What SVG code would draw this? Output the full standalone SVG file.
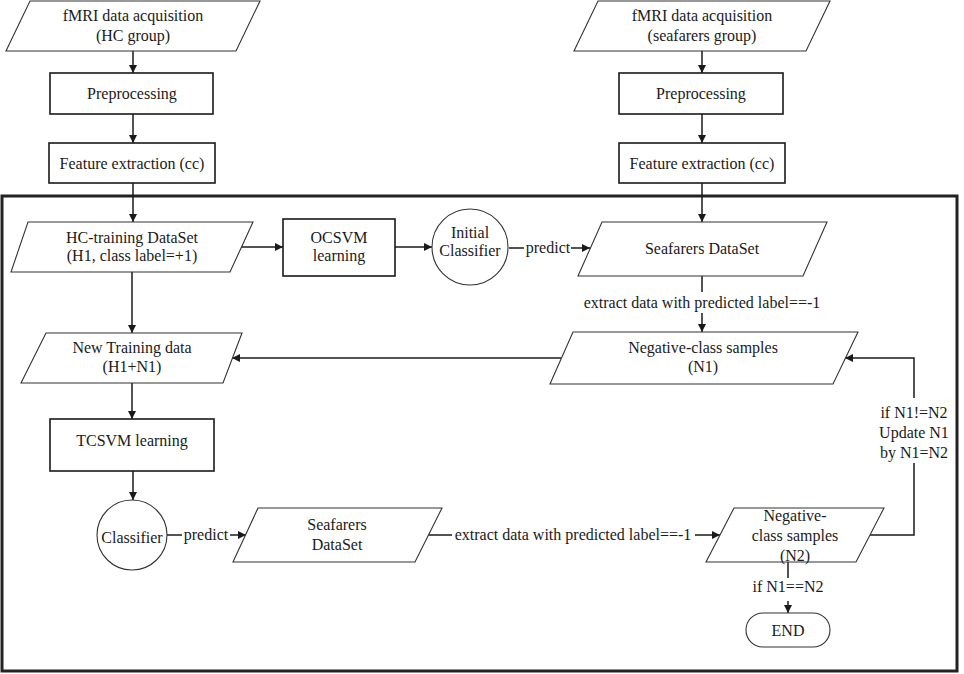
<svg xmlns="http://www.w3.org/2000/svg" width="964" height="674" viewBox="0 0 964 674">
<style>
text{font-family:"Liberation Serif","Times New Roman",serif;font-size:16px;fill:#1a1a1a;text-anchor:middle}
.box{fill:#fff;stroke:#1a1a1a;stroke-width:1.6}
.para{fill:#fff;stroke:#333;stroke-width:1.1}
.ln{fill:none;stroke:#1a1a1a;stroke-width:1.5}
.arr{fill:none;stroke:#1a1a1a;stroke-width:1.5;marker-end:url(#ah)}
</style>
<defs>
<marker id="ah" viewBox="0 0 10 10" refX="10" refY="5" markerWidth="9" markerHeight="8" orient="auto" markerUnits="userSpaceOnUse"><path d="M0,0 L10,5 L0,10 z" fill="#1a1a1a"/></marker>
</defs>
<rect x="2" y="196" width="955" height="475" fill="none" stroke="#222" stroke-width="3"/>
<g id="connectors">
<path class="arr" d="M133,51 V73"/>
<path class="arr" d="M133,114 V143"/>
<path class="arr" d="M133,183 V222"/>
<path class="arr" d="M702,51 V73"/>
<path class="arr" d="M702,114 V143"/>
<path class="arr" d="M702,183 V222"/>
<path class="arr" d="M241,247 H283"/>
<path class="arr" d="M395,247 H432"/>
<path class="ln" d="M509,248 H524"/>
<path class="arr" d="M571,248 H590"/>
<text x="548" y="253">predict</text>
<path class="ln" d="M702,276 V292"/>
<text x="702" y="308">extract data with predicted label==-1</text>
<path class="arr" d="M702,313 V332"/>
<path class="arr" d="M561,358 H232"/>
<path class="arr" d="M132,272 V333"/>
<path class="arr" d="M132,383 V419"/>
<path class="arr" d="M133,471 V500"/>
<path class="ln" d="M167,535 H182"/>
<text x="206" y="540">predict</text>
<path class="arr" d="M230,535 H246"/>
<path class="ln" d="M428,535 H452"/>
<text x="573" y="540">extract data with predicted label==-1</text>
<path class="arr" d="M695,535 H720"/>
<path class="ln" d="M870,535 H914 V463"/>
<path class="arr" d="M914,398 V358 H845"/>
<text x="914" y="418">if N1!=N2</text>
<text x="914" y="438">Update N1</text>
<text x="914" y="458">by N1=N2</text>
<path class="ln" d="M788,562 V578"/>
<text x="788" y="592">if N1==N2</text>
<path class="arr" d="M788,601 V613"/>
</g>
<g id="hc-acq"><polygon class="para" points="30,1 260,1 236,51 6,51"/><text x="133" y="21">fMRI data acquisition</text><text x="133" y="41">(HC group)</text></g>
<g id="hc-pre"><rect class="box" x="50" y="73" width="163" height="41"/><text x="132" y="99">Preprocessing</text></g>
<g id="hc-feat"><rect class="box" x="49" y="143" width="166" height="40"/><text x="132" y="169">Feature extraction (cc)</text></g>
<g id="sf-acq"><polygon class="para" points="598,1 830,1 806,51 574,51"/><text x="702" y="21">fMRI data acquisition</text><text x="702" y="41">(seafarers group)</text></g>
<g id="sf-pre"><rect class="box" x="619" y="73" width="164" height="41"/><text x="701" y="99">Preprocessing</text></g>
<g id="sf-feat"><rect class="box" x="619" y="143" width="166" height="40"/><text x="702" y="169">Feature extraction (cc)</text></g>
<g id="hc-train"><polygon class="para" points="28,222 253,222 230,272 11,272"/><text x="132" y="243">HC-training DataSet</text><text x="132" y="261">(H1, class label=+1)</text></g>
<g id="ocsvm"><rect class="box" x="283" y="219" width="112" height="57"/><text x="339" y="243">OCSVM</text><text x="339" y="261">learning</text></g>
<g id="init-clf"><circle class="para" cx="470" cy="247" r="38"/><text x="470" y="238">Initial</text><text x="470" y="256">Classifier</text></g>
<g id="sf-data"><polygon class="para" points="602,222 827,222 803,276 578,276"/><text x="702" y="254">Seafarers DataSet</text></g>
<g id="neg-n1"><polygon class="para" points="573,332 858,332 833,384 550,384"/><text x="703" y="353">Negative-class samples</text><text x="703" y="372">(N1)</text></g>
<g id="new-train"><polygon class="para" points="46,333 242,333 223,383 21,383"/><text x="132" y="353">New Training data</text><text x="132" y="372">(H1+N1)</text></g>
<g id="tcsvm"><rect class="box" x="50" y="419" width="164" height="52"/><text x="132" y="446">TCSVM learning</text></g>
<g id="clf"><circle class="para" cx="132" cy="535" r="35"/><text x="132" y="543">Classifier</text></g>
<g id="sf-data2"><polygon class="para" points="258,508 442,508 415,562 233,562"/><text x="337" y="530">Seafarers</text><text x="337" y="550">DataSet</text></g>
<g id="neg-n2"><polygon class="para" points="734,508 884,508 856,562 706,562"/><text x="795" y="521">Negative-</text><text x="795" y="541">class samples</text><text x="795" y="561">(N2)</text></g>
<g id="end"><rect class="para" x="746" y="613" width="84" height="34" rx="17" ry="17"/><text x="788" y="636">END</text></g>
</svg>
